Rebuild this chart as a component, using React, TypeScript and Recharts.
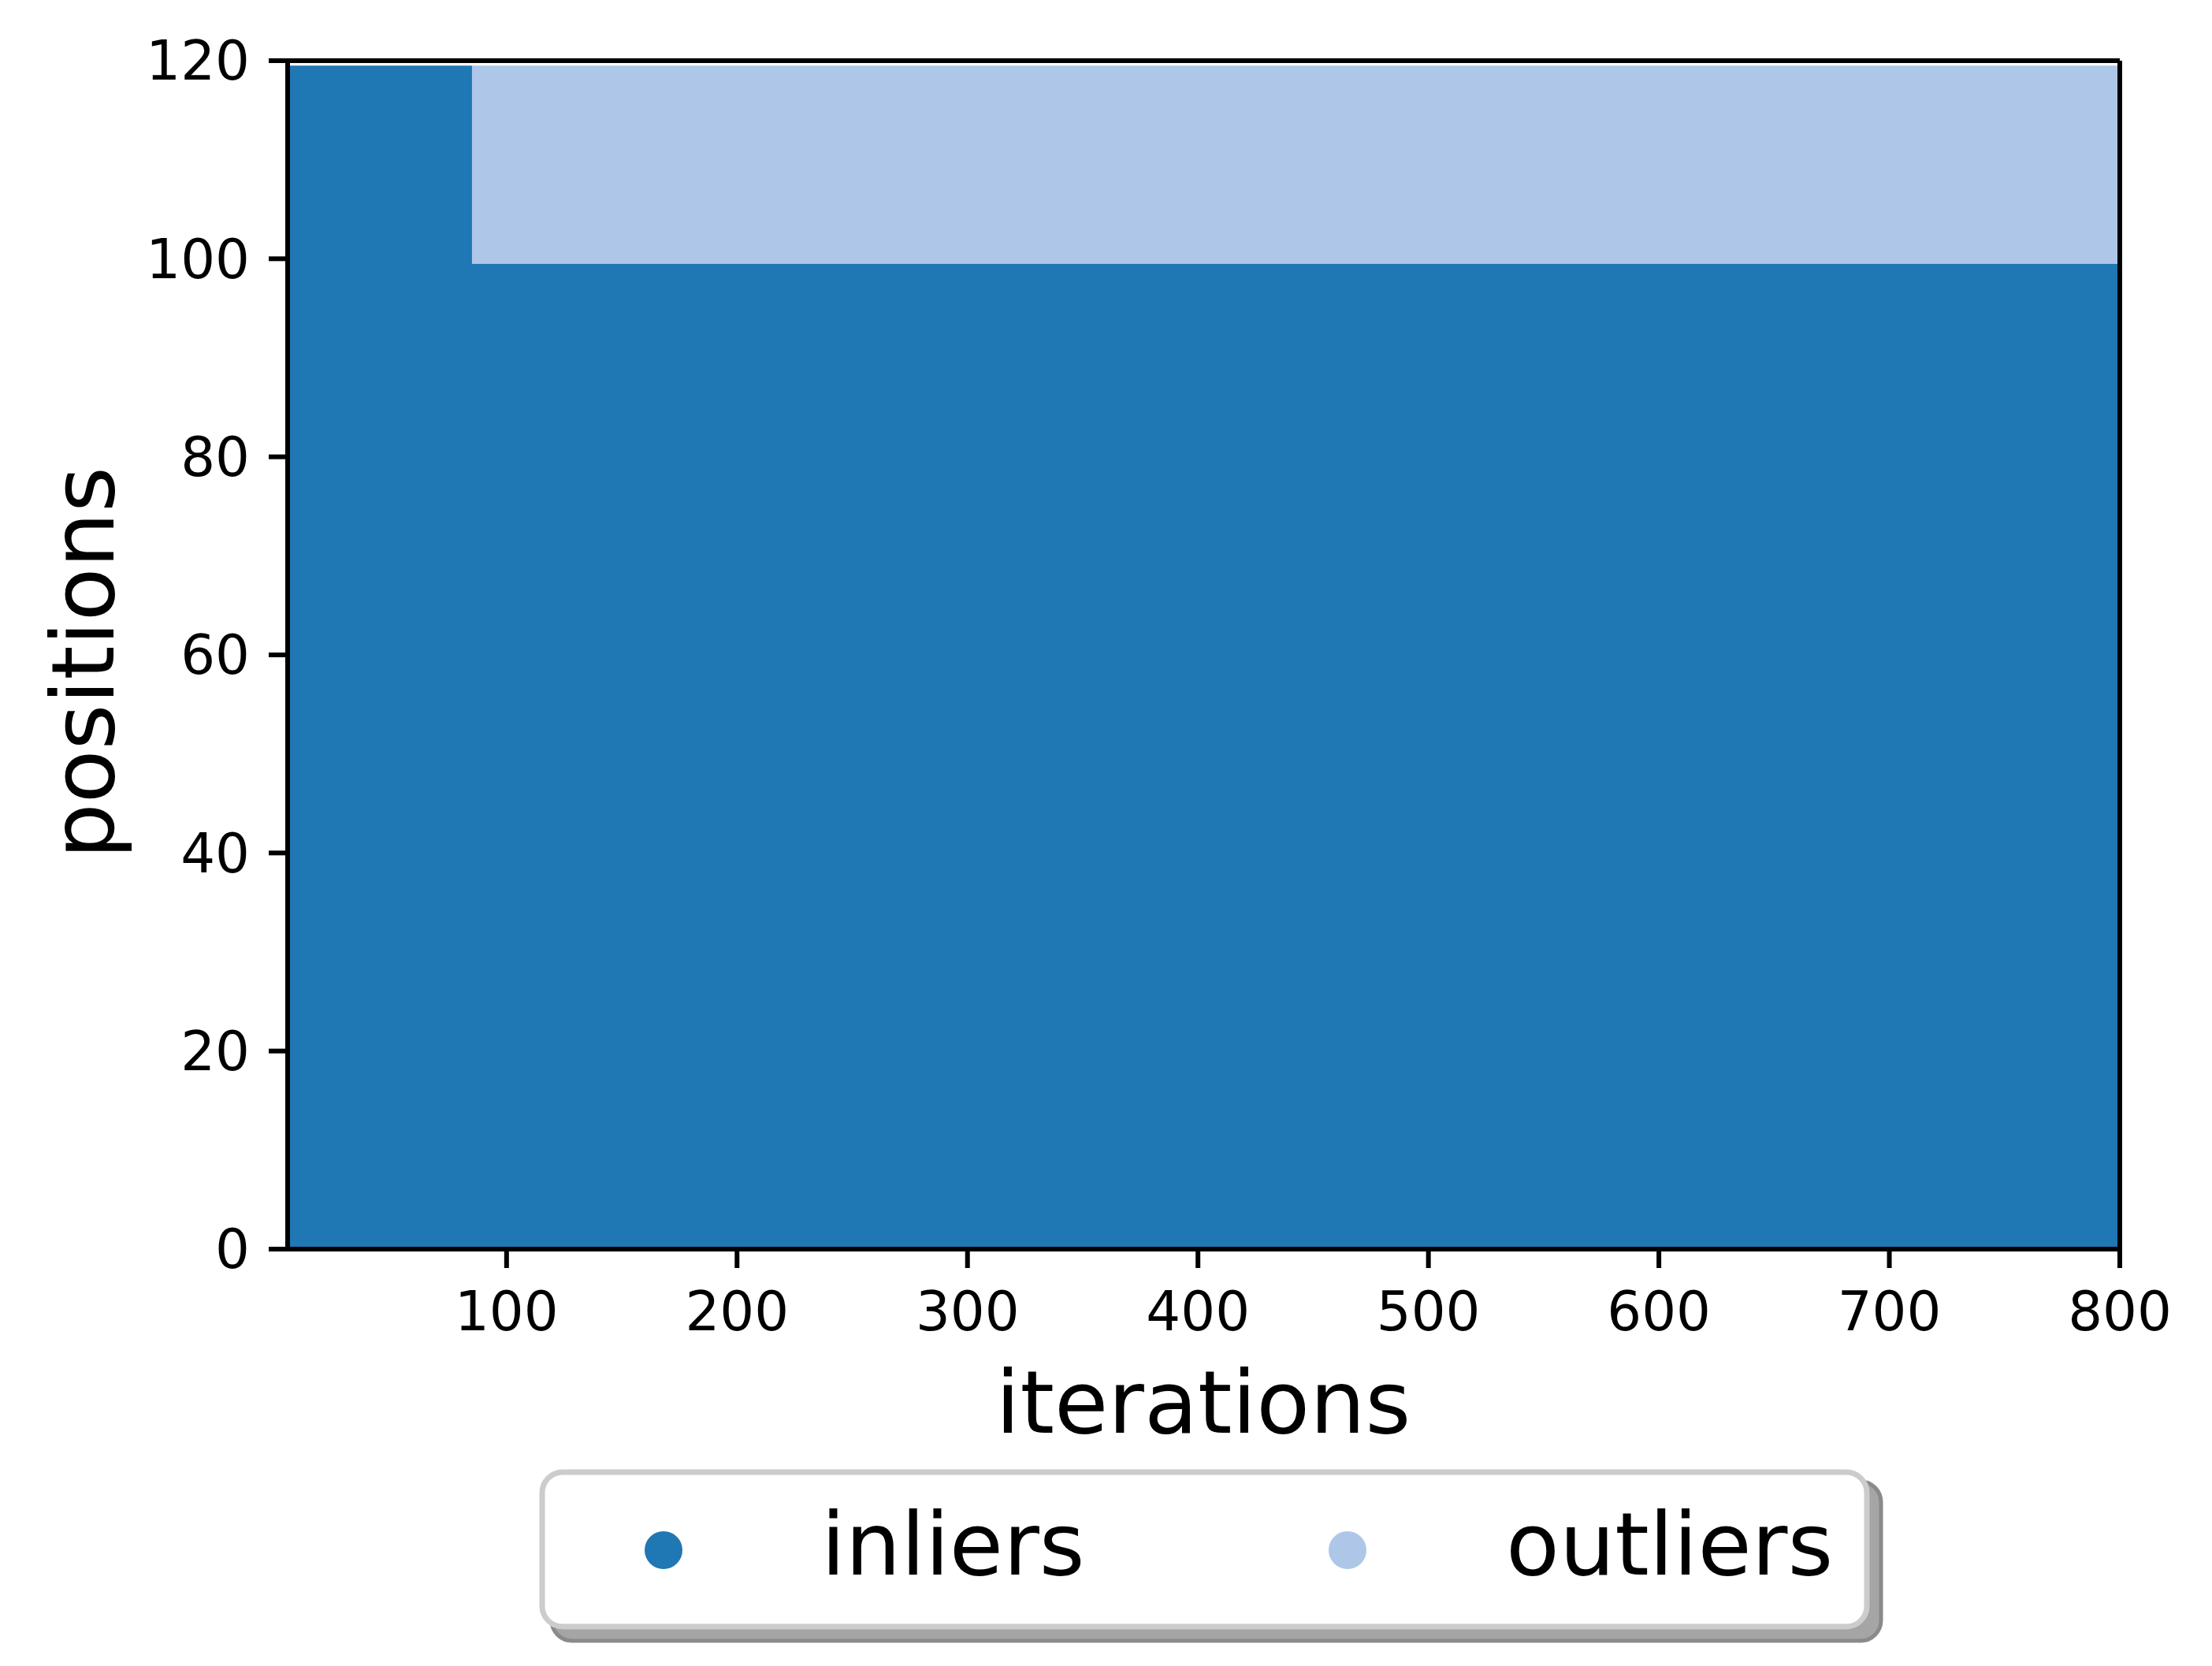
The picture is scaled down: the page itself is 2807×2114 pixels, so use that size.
import {Area, ComposedChart, ReferenceLine, XAxis, YAxis} from "recharts";
import {CSSProperties, FC} from "react";

// values
const iterations = [5, 85, 800];
const inliers = [119.5, 99.5, 99.5];
const outliers = [0, 20, 20];

const xTicks = [100, 200, 300, 400, 500, 600, 700, 800];
const yTicks = [0, 20, 40, 60, 80, 100, 120];

const seriesNames = ["inliers", "outliers"];
const seriesColors = ["#1f77b4", "#aec7e8"];

const data = iterations.map((it, i) => ({
    iteration: it,
    inliers: inliers[i],
    outliers: outliers[i],
}));

const font = "DejaVu Sans";

const App: FC = () => {
    const styles: { [key: string]: CSSProperties } = {
        page: {position: "absolute", left: 0, top: 0, width: 2807, height: 2114, background: "white"},
        overlay: {position: "absolute", left: 0, top: 0, pointerEvents: "none"},
    };

    const tick = {fontFamily: font, fontSize: 69, fill: "black"};

    return (
        <div style={styles.page}>
            <ComposedChart width={2807} height={2114} data={data}
                           margin={{top: 77, right: 117, bottom: 429, left: 65}}>
                <XAxis dataKey="iteration" type="number" domain={[5, 800]} allowDataOverflow
                       ticks={xTicks} interval={0} height={100}
                       tick={tick} tickSize={24} tickMargin={30}
                       axisLine={{stroke: "black", strokeWidth: 6}}
                       tickLine={{stroke: "black", strokeWidth: 6}}/>
                <YAxis type="number" domain={[0, 120]} allowDataOverflow ticks={yTicks} interval={0}
                       width={300} tick={tick} tickSize={24} tickMargin={24}
                       axisLine={{stroke: "black", strokeWidth: 6}}
                       tickLine={{stroke: "black", strokeWidth: 6}}/>
                <Area type="stepAfter" dataKey="inliers" stackId="a" fill={seriesColors[0]}
                      fillOpacity={1} stroke="none" isAnimationActive={false} dot={false} activeDot={false}/>
                <Area type="stepAfter" dataKey="outliers" stackId="a" fill={seriesColors[1]}
                      fillOpacity={1} stroke="none" isAnimationActive={false} dot={false} activeDot={false}/>
                <ReferenceLine y={120} stroke="black" strokeWidth={6}/>
                <ReferenceLine x={800} stroke="black" strokeWidth={6}/>
            </ComposedChart>

            <svg width={2807} height={2114} style={styles.overlay}>
                <text x={1527} y={1818} textAnchor="middle" fontFamily={font} fontSize={111}>iterations</text>
                <text transform="translate(144,841) rotate(-90)" textAnchor="middle"
                      fontFamily={font} fontSize={111}>positions</text>

                {/* legend */}
                <rect x={700} y={1880} width={1687} height={202} rx={26} fill="#a5a5a5"
                      stroke="#8a8a8a" strokeWidth={5}/>
                <rect x={688} y={1868} width={1681} height={196} rx={26} fill="white"
                      stroke="#cccccc" strokeWidth={7}/>
                <circle cx={842} cy={1967} r={24} fill={seriesColors[0]}/>
                <text x={1042} y={1998} fontFamily={font} fontSize={111}>{seriesNames[0]}</text>
                <circle cx={1710} cy={1967} r={24} fill={seriesColors[1]}/>
                <text x={1911} y={1998} fontFamily={font} fontSize={111}>{seriesNames[1]}</text>
            </svg>
        </div>
    );
};

export default App;
